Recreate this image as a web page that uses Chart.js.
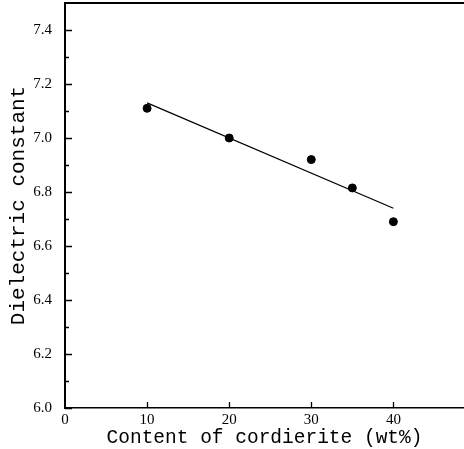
<!DOCTYPE html>
<html>
<head>
<meta charset="utf-8">
<script src="https://cdn.jsdelivr.net/npm/chart.js@4/dist/chart.umd.min.js"></script>
<style>
  html, body { margin: 0; padding: 0; background: #fff; }
  #wrap { width: 464px; height: 449px; position: relative; }
</style>
</head>
<body>
<div id="wrap"><canvas id="chart"></canvas></div>
<script>
// ─── Data ────────────────────────────────────────────────────────────────────

const contentPct = [10, 20, 30, 35, 40];
const dielectric = [7.11, 7.00, 6.92, 6.815, 6.69];

// fitted line at both ends
const fitX = [10, 40];
const fitY = [7.13, 6.74];

const X_TICKS = [0, 10, 20, 30, 40];
const Y_TICKS = [6.0, 6.2, 6.4, 6.6, 6.8, 7.0, 7.2, 7.4];
const Y_MINOR = [6.1, 6.3, 6.5, 6.7, 6.9, 7.1, 7.3];

const TICK_FONT = { family: 'Liberation Serif', size: 15 };

// ─── Inner tick marks + top frame line ──────────────────────────────────────

const innerTicks = {
  id: 'innerTicks',
  afterDraw(chart) {
    const { ctx, chartArea: a, scales: { x, y } } = chart;
    ctx.save();
    ctx.strokeStyle = '#000';
    ctx.lineWidth = 1.3;
    ctx.beginPath();
    Y_TICKS.forEach((v) => {
      const py = Math.round(y.getPixelForValue(v)) + 0.5;
      ctx.moveTo(a.left, py);
      ctx.lineTo(a.left + 7, py);
    });
    Y_MINOR.forEach((v) => {
      const py = Math.round(y.getPixelForValue(v)) + 0.5;
      ctx.moveTo(a.left, py);
      ctx.lineTo(a.left + 4, py);
    });
    X_TICKS.slice(1).forEach((v) => {
      const px = Math.round(x.getPixelForValue(v)) + 0.5;
      ctx.moveTo(px, a.bottom);
      ctx.lineTo(px, a.bottom - 6);
    });
    ctx.stroke();
    // top frame
    ctx.lineWidth = 2;
    ctx.beginPath();
    ctx.moveTo(a.left, a.top);
    ctx.lineTo(a.right, a.top);
    ctx.stroke();
    ctx.restore();
  },
};

// ─── Chart ───────────────────────────────────────────────────────────────────

new Chart(document.getElementById('chart'), {
  type: 'scatter',
  data: {
    datasets: [
      {
        label: 'measured',
        data: contentPct.map((c, i) => ({ x: c, y: dielectric[i] })),
        backgroundColor: '#000',
        borderColor: '#000',
        pointRadius: 4,
        pointHoverRadius: 4,
      },
      {
        label: 'fit',
        data: fitX.map((c, i) => ({ x: c, y: fitY[i] })),
        showLine: true,
        borderColor: '#000',
        borderWidth: 1.2,
        pointRadius: 0,
      },
    ],
  },
  options: {
    responsive: true,
    maintainAspectRatio: false,
    animation: false,
    layout: { autoPadding: false, padding: { top: 3, right: 0, left: 0, bottom: 0 } },
    plugins: {
      legend: { display: false },
      tooltip: { enabled: false },
    },
    scales: {
      x: {
        type: 'linear',
        min: 0,
        max: 48.6,
        afterBuildTicks: (s) => { s.ticks = X_TICKS.map((v) => ({ value: v })); },
        afterFit: (s) => { s.height = 41; s.paddingLeft = 0; s.paddingRight = 0; },
        ticks: { color: '#000', font: TICK_FONT, padding: 3, maxRotation: 0 },
        grid: { display: false, drawTicks: false },
        border: { display: true, color: '#000', width: 1.5 },
        title: {
          display: true,
          text: 'Content of cordierite (wt%)',
          color: '#000',
          font: { family: 'Liberation Mono', size: 19.5 },
          padding: { top: 0, bottom: -1 },
        },
      },
      y: {
        type: 'linear',
        min: 6.0,
        max: 7.5,
        afterBuildTicks: (s) => { s.ticks = Y_TICKS.map((v) => ({ value: v })); },
        afterFit: (s) => { s.width = 65; s.paddingTop = 0; s.paddingBottom = 0; },
        ticks: {
          color: '#000',
          font: TICK_FONT,
          padding: 13,
          callback: (v) => Number(v).toFixed(1),
        },
        grid: { display: false, drawTicks: false },
        border: { display: true, color: '#000', width: 2 },
        title: {
          display: true,
          text: 'Dielectric constant',
          color: '#000',
          font: { family: 'Liberation Mono', size: 21 },
          padding: { top: 6, bottom: 0 },
        },
      },
    },
  },
  plugins: [innerTicks],
});
</script>
</body>
</html>
